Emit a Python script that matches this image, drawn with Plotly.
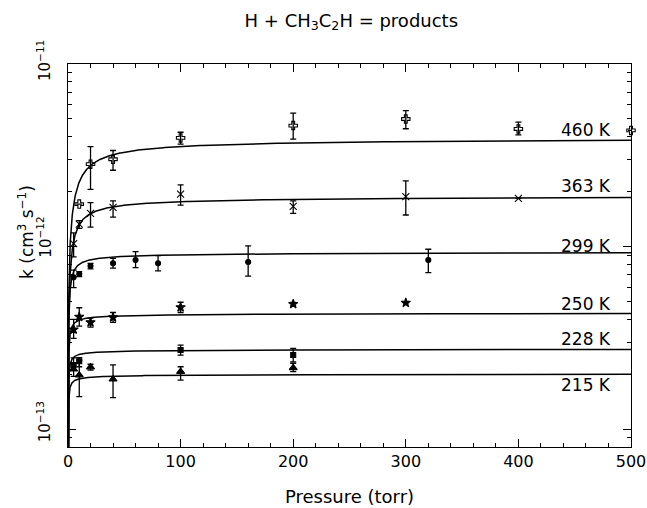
import numpy as np
import plotly.graph_objects as go

FONT = "DejaVu Sans"

temps = ["460 K", "363 K", "299 K", "250 K", "228 K", "215 K"]
symbols = ["cross-open", "x-thin", "circle", "star", "square", "triangle-up"]
sizes = [7, 7, 5, 7, 5, 7]

# fall-off fit parameters: high-pressure limit and characteristic pressure (torr)
k_inf = [4.1e-12, 1.96e-12, 9.6e-13, 4.43e-13, 2.81e-13, 2.05e-13]
p_c = [3.5, 1.8, 0.5, 0.2, 0.125, 0.1]
F_CENT = 0.7

# label positions for each isotherm (k value at which the text is centred)
label_k = [4.36e-12, 2.15e-12, 1.01e-12, 4.85e-13, 3.12e-13, 1.75e-13]

# y axis decades and their labels
y_ticks = [1e-13, 1e-12, 1e-11]
y_ticktext = ["10<sup>\u221213</sup>", "10<sup>\u221212</sup>", "10<sup>\u221211</sup>"]
x_ticks = [0, 100, 200, 300, 400, 500]

# measurements: pressure (torr), k (cm3 s-1), upper and lower error limits
p_460 = [10, 20, 40, 100, 200, 300, 400, 500]
k_460 = [1.71e-12, 2.83e-12, 3.01e-12, 3.94e-12, 4.6e-12, 5.0e-12, 4.41e-12, 4.33e-12]
hi_460 = [1.71e-12, 3.53e-12, 3.36e-12, 4.23e-12, 5.39e-12, 5.55e-12, 4.81e-12, 4.33e-12]
lo_460 = [1.71e-12, 2.06e-12, 2.62e-12, 3.64e-12, 3.88e-12, 4.42e-12, 4.09e-12, 4.33e-12]

p_363 = [5, 10, 20, 40, 100, 200, 300, 400]
k_363 = [1.04e-12, 1.33e-12, 1.52e-12, 1.64e-12, 1.94e-12, 1.66e-12, 1.88e-12, 1.84e-12]
hi_363 = [1.19e-12, 1.39e-12, 1.74e-12, 1.78e-12, 2.18e-12, 1.78e-12, 2.29e-12, 1.84e-12]
lo_363 = [0.88e-12, 1.26e-12, 1.28e-12, 1.45e-12, 1.69e-12, 1.52e-12, 1.49e-12, 1.84e-12]

p_299 = [5, 10, 20, 40, 60, 80, 160, 320]
k_299 = [6.79e-13, 7.08e-13, 7.83e-13, 8.1e-13, 8.45e-13, 8.11e-13, 8.24e-13, 8.45e-13]
hi_299 = [7.43e-13, 7.3e-13, 8.1e-13, 8.63e-13, 9.4e-13, 8.93e-13, 1.01e-12, 9.68e-13]
lo_299 = [5.97e-13, 6.85e-13, 7.55e-13, 7.62e-13, 7.67e-13, 7.36e-13, 6.9e-13, 7.21e-13]

p_250 = [5, 10, 20, 40, 100, 200, 300]
k_250 = [3.52e-13, 4.13e-13, 3.85e-13, 4.1e-13, 4.66e-13, 4.85e-13, 4.93e-13]
hi_250 = [4.0e-13, 4.63e-13, 4.06e-13, 4.36e-13, 4.96e-13, 4.95e-13, 4.93e-13]
lo_250 = [3.15e-13, 3.67e-13, 3.63e-13, 3.85e-13, 4.36e-13, 4.75e-13, 4.93e-13]

p_228 = [5, 10, 100, 200]
k_228 = [2.25e-13, 2.36e-13, 2.72e-13, 2.55e-13]
hi_228 = [2.46e-13, 2.47e-13, 2.89e-13, 2.77e-13]
lo_228 = [2.10e-13, 2.2e-13, 2.55e-13, 2.34e-13]

p_215 = [5, 10, 20, 40, 100, 200]
k_215 = [2.13e-13, 1.98e-13, 2.19e-13, 1.88e-13, 2.07e-13, 2.17e-13]
hi_215 = [2.3e-13, 2.39e-13, 2.27e-13, 2.25e-13, 2.2e-13, 2.30e-13]
lo_215 = [1.95e-13, 1.51e-13, 2.11e-13, 1.49e-13, 1.86e-13, 2.07e-13]

datasets = [
    (p_460, k_460, hi_460, lo_460),
    (p_363, k_363, hi_363, lo_363),
    (p_299, k_299, hi_299, lo_299),
    (p_250, k_250, hi_250, lo_250),
    (p_228, k_228, hi_228, lo_228),
    (p_215, k_215, hi_215, lo_215),
]

y_lo, y_hi = 8.0e-14, 1.0e-11
x_lo, x_hi = 0, 500

# plot frame in pixels
W, H = 647, 508
M_L, M_R, M_T, M_B = 68, 16, 64, 61
PLOT_W = W - M_L - M_R
PLOT_H = H - M_T - M_B


def falloff(p, kinf, pc):
    """Troe-type fall-off curve in reduced pressure p/pc."""
    x = p / pc
    lx = np.log10(x)
    broad = 10 ** (np.log10(F_CENT) / (1.0 + lx ** 2))
    return kinf * x / (1.0 + x) * broad


p_grid = np.geomspace(0.01, 500, 800)

fig = go.Figure()

for i, (p, k, hi, lo) in enumerate(datasets):
    k_arr = np.array(k)
    fig.add_trace(go.Scatter(
        x=p_grid, y=falloff(p_grid, k_inf[i], p_c[i]),
        mode="lines", line=dict(color="black", width=1.5),
        showlegend=False, hoverinfo="skip",
    ))
    fig.add_trace(go.Scatter(
        x=p, y=k, mode="markers", name=temps[i], showlegend=False,
        cliponaxis=False,
        marker=dict(symbol=symbols[i], size=sizes[i], color="black",
                    line=dict(color="black", width=1.1)),
        error_y=dict(type="data", symmetric=False,
                     array=np.array(hi) - k_arr, arrayminus=k_arr - np.array(lo),
                     color="black", thickness=1.3, width=3),
    ))

annotations = []
for i, t in enumerate(temps):
    annotations.append(dict(
        x=436, y=np.log10(label_k[i]), xref="x", yref="y", text=t,
        showarrow=False, xanchor="left", yanchor="middle",
        font=dict(family=FONT, size=17, color="black"),
    ))

# rotated decade labels; the mantissa "10" sits on the tick
label_shift = [7, 9, 3]
for val, txt, sh in zip(y_ticks, y_ticktext, label_shift):
    annotations.append(dict(
        x=(56 - M_L) / PLOT_W, xref="paper", xanchor="right",
        y=np.log10(val), yref="y", yanchor="middle", yshift=sh,
        text=txt, textangle=-90, showarrow=False,
        font=dict(family=FONT, size=15, color="black"),
    ))

# rotated y-axis title
annotations.append(dict(
    x=(26 - M_L) / PLOT_W, xref="paper", xanchor="center",
    y=(H - M_B - 232) / PLOT_H, yref="paper", yanchor="middle",
    text="k (cm<sup>3</sup> s<sup>\u22121</sup>)", textangle=-90, showarrow=False,
    font=dict(family=FONT, size=17, color="black"),
))

axis_common = dict(
    showline=True, linecolor="black", linewidth=1.3, mirror="ticks",
    ticks="inside", tickcolor="black", tickwidth=1.2, ticklen=8,
    showgrid=False, zeroline=False, automargin=False,
)

fig.update_layout(
    width=W, height=H,
    margin=dict(l=M_L, r=M_R, t=M_T, b=M_B),
    paper_bgcolor="white", plot_bgcolor="white",
    title=dict(text="H + CH<sub>3</sub>C<sub>2</sub>H = products",
               x=0.543, xanchor="center", y=0.96, yanchor="middle",
               font=dict(family=FONT, size=18, color="black")),
    xaxis=dict(
        range=[x_lo, x_hi], tickvals=x_ticks,
        minor=dict(ticks="inside", ticklen=4, dtick=20, tickcolor="black", tickwidth=1.2),
        tickfont=dict(family=FONT, size=16, color="black"),
        title=dict(text="Pressure (torr)", standoff=20,
                   font=dict(family=FONT, size=18, color="black")),
        **axis_common,
    ),
    yaxis=dict(
        type="log", range=[np.log10(y_lo), np.log10(y_hi)],
        tickvals=y_ticks, showticklabels=False,
        minor=dict(ticks="inside", ticklen=4, dtick="D1", tickcolor="black", tickwidth=1.2),
        **axis_common,
    ),
    annotations=annotations,
)

fig.write_html("out.html")
